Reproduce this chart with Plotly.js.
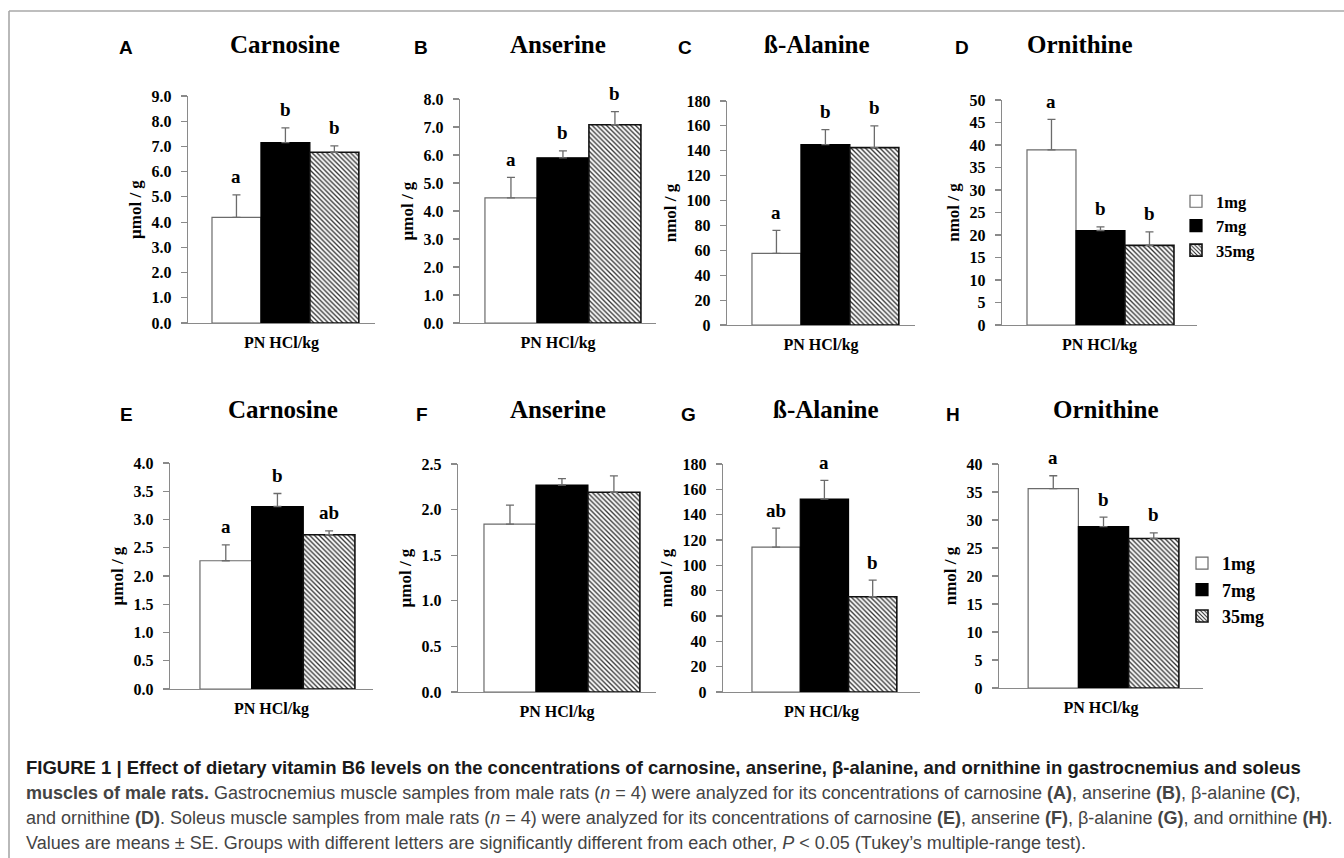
<!DOCTYPE html>
<html>
<head>
<meta charset="utf-8">
<script src="https://cdn.plot.ly/plotly-3.0.1.min.js"></script>
<style>
html,body{margin:0;padding:0;background:#fff;}
#chart{width:1344px;height:858px;}
</style>
</head>
<body>
<div id="chart"></div>
<script>
// ---------- DATA ----------
const doses = ['1mg', '7mg', '35mg'];
const panelLetters = ['A', 'B', 'C', 'D', 'E', 'F', 'G', 'H'];
const analytes = ['Carnosine', 'Anserine', 'ß-Alanine', 'Ornithine', 'Carnosine', 'Anserine', 'ß-Alanine', 'Ornithine'];
const units = ['μmol / g', 'μmol / g', 'nmol / g', 'nmol / g', 'μmol / g', 'μmol / g', 'nmol / g', 'nmol / g'];
const xAxisLabel = 'PN HCl/kg';

const mean1mg  = [4.19, 4.47, 57.5, 38.9, 2.27, 1.84, 114.3, 35.6];
const se1mg    = [0.89, 0.73, 18.5, 6.8, 0.28, 0.21, 15.0, 2.3];
const mean7mg  = [7.15, 5.90, 145, 21.0, 3.23, 2.27, 152.3, 28.8];
const se7mg    = [0.59, 0.25, 12, 0.8, 0.23, 0.07, 14.7, 1.7];
const mean35mg = [6.77, 7.08, 142.5, 17.7, 2.73, 2.19, 75.2, 26.7];
const se35mg   = [0.25, 0.47, 17.5, 3.0, 0.07, 0.18, 13.2, 1.0];

const letters1mg  = ['a', 'a', 'a', 'a', 'a', '', 'ab', 'a'];
const letters7mg  = ['b', 'b', 'b', 'b', 'b', '', 'a', 'b'];
const letters35mg = ['b', 'b', 'b', 'b', 'ab', '', 'b', 'b'];

const yMax  = [9, 8, 180, 50, 4, 2.5, 180, 40];
const yStep = [1, 1, 20, 5, 0.5, 0.5, 20, 5];
const yFormat = ['.1f', '.1f', 'd', 'd', '.1f', '.1f', 'd', 'd'];

const captionLines = [
  '<b>FIGURE 1 | Effect of dietary vitamin B6 levels on the concentrations of carnosine, anserine, β-alanine, and ornithine in gastrocnemius and soleus</b>',
  '<b>muscles of male rats.</b> Gastrocnemius muscle samples from male rats (<i>n</i> = 4) were analyzed for its concentrations of carnosine <b>(A)</b>, anserine <b>(B)</b>, β-alanine <b>(C)</b>,',
  'and ornithine <b>(D)</b>. Soleus muscle samples from male rats (<i>n</i> = 4) were analyzed for its concentrations of carnosine <b>(E)</b>, anserine <b>(F)</b>, β-alanine <b>(G)</b>, and ornithine <b>(H)</b>.',
  'Values are means ± SE. Groups with different letters are significantly different from each other, <i>P</i> &lt; 0.05 (Tukey’s multiple-range test).'
];

// ---------- LAYOUT GEOMETRY (pixels) ----------
const W = 1344, H = 858;
const boxes = [
  {x0: 188, x1: 375, y0: 96,  y1: 323, xr: [-0.99, 2.83], title: 285,  letter: 125.5},
  {x0: 460, x1: 656, y0: 99,  y1: 323, xr: [-0.98, 2.79], title: 558,  letter: 421},
  {x0: 727, x1: 915, y0: 101, y1: 325, xr: [-1.01, 2.83], title: 817,  letter: 685},
  {x0: 1002, x1: 1197, y0: 100, y1: 325, xr: [-1.01, 2.97], title: 1080, letter: 962},
  {x0: 170, x1: 373, y0: 463, y1: 689, xr: [-1.08, 2.85], title: 283,  letter: 126},
  {x0: 458, x1: 656, y0: 464, y1: 692, xr: [-1.0, 2.81],  title: 558,  letter: 422},
  {x0: 723, x1: 920, y0: 464, y1: 692, xr: [-1.1, 2.98],  title: 826,  letter: 688},
  {x0: 999, x1: 1203, y0: 464, y1: 688, xr: [-1.08, 2.98], title: 1106, letter: 953}
];
const px = v => v / W;
const py = v => 1 - v / H;

const serif = 'Liberation Serif, Times New Roman, serif';
const sans = 'Liberation Sans, Arial, sans-serif';
const axisGray = '#8a8a8a';

const seriesStyle = [
  {name: doses[0], mean: mean1mg, se: se1mg, letters: letters1mg, color: '#ffffff', line: '#6b6b6b', lw: 1.2, pattern: {shape: ''}},
  {name: doses[1], mean: mean7mg, se: se7mg, letters: letters7mg, color: '#000000', line: '#000000', lw: 1.2, pattern: {shape: ''}},
  {name: doses[2], mean: mean35mg, se: se35mg, letters: letters35mg, color: '#ffffff', line: '#111111', lw: 1.6,
   pattern: {shape: '\\', size: 3.4, solidity: 0.4, fgcolor: '#333333', bgcolor: '#ffffff'}}
];

const traces = [];
const annotations = [];
const layout = {
  width: W, height: H,
  margin: {l: 0, r: 0, t: 0, b: 0},
  paper_bgcolor: '#ffffff', plot_bgcolor: 'rgba(0,0,0,0)',
  barmode: 'overlay',
  showlegend: true,
  font: {family: serif, color: '#000'},
  legend: {x: px(1176), xanchor: 'left', y: py(184), yanchor: 'top', bgcolor: 'rgba(0,0,0,0)',
           font: {family: serif, size: 16.5, color: '#000', weight: 'bold'}, itemwidth: 30, tracegroupgap: 0},
  legend2: {x: px(1182), xanchor: 'left', y: py(545), yanchor: 'top', bgcolor: 'rgba(0,0,0,0)',
           font: {family: serif, size: 18, color: '#000', weight: 'bold'}, itemwidth: 30, tracegroupgap: 0},
  shapes: [
    {type: 'line', xref: 'paper', yref: 'paper', x0: px(9), x1: px(1344), y0: py(11), y1: py(11), line: {color: '#a8a8a8', width: 1.6}},
    {type: 'line', xref: 'paper', yref: 'paper', x0: px(9), x1: px(9), y0: py(11), y1: py(858), line: {color: '#a8a8a8', width: 1.6}}
  ],
  annotations: annotations
};

for (let p = 0; p < 8; p++) {
  const b = boxes[p];
  const sfx = p === 0 ? '' : String(p + 1);
  const xa = 'x' + sfx, ya = 'y' + sfx;
  layout['xaxis' + sfx] = {
    domain: [px(b.x0), px(b.x1)], anchor: ya, type: 'category',
    categoryorder: 'array', categoryarray: doses, range: b.xr,
    showgrid: false, zeroline: false, showline: true, linecolor: axisGray, linewidth: 1.4,
    ticks: '', showticklabels: false, fixedrange: true,
    title: {text: xAxisLabel, standoff: 13, font: {family: serif, size: 16, color: '#000', weight: 'bold'}}
  };
  layout['yaxis' + sfx] = {
    domain: [py(b.y1), py(b.y0)], anchor: xa, range: [0, yMax[p]],
    tick0: 0, dtick: yStep[p], tickformat: yFormat[p],
    showgrid: false, zeroline: false, showline: true, linecolor: axisGray, linewidth: 1.4,
    ticks: 'outside', ticklen: 6, tickcolor: axisGray, tickwidth: 1.2, ticklabelstandoff: 6,
    tickfont: {family: serif, size: 16, color: '#000', weight: 'bold'}, fixedrange: true,
    title: {text: units[p], standoff: 5, font: {family: serif, size: 17, color: '#000', weight: 'bold'}}
  };

  seriesStyle.forEach((s, k) => {
    traces.push({
      type: 'bar', name: s.name, x: [doses[k]], y: [s.mean[p]], width: 1,
      xaxis: xa, yaxis: ya,
      marker: {color: s.color, line: {color: s.line, width: s.lw}, pattern: s.pattern},
      error_y: {type: 'data', symmetric: false, array: [s.se[p]], arrayminus: [0], color: '#6b6b6b', thickness: 1.3, width: 4},
      showlegend: p === 3 || p === 7,
      legend: p === 7 ? 'legend2' : 'legend',
      hoverinfo: 'skip'
    });
    if (s.letters[p]) {
      annotations.push({
        xref: xa, yref: ya, x: doses[k], y: s.mean[p] + s.se[p],
        text: s.letters[p], showarrow: false, yanchor: 'middle', yshift: 18,
        font: {family: serif, size: 19, color: '#000', weight: 'bold'}
      });
    }
  });

  const rowTitleY = p < 4 ? 44 : 410;
  const rowLetterY = p < 4 ? 48 : 414;
  annotations.push({
    xref: 'paper', yref: 'paper', x: px(b.title), y: py(rowTitleY), xanchor: 'center', yanchor: 'middle',
    text: analytes[p], showarrow: false, font: {family: serif, size: 25, color: '#000', weight: 'bold'}
  });
  annotations.push({
    xref: 'paper', yref: 'paper', x: px(b.letter), y: py(rowLetterY), xanchor: 'center', yanchor: 'middle',
    text: panelLetters[p], showarrow: false, font: {family: sans, size: 19, color: '#000', weight: 'bold'}
  });
}

const captionY = [767, 793, 818, 843];
const captionSize = [18.5, 18, 18, 18];
captionLines.forEach((t, i) => {
  annotations.push({
    xref: 'paper', yref: 'paper', x: px(24), y: py(captionY[i]), xanchor: 'left', yanchor: 'middle',
    text: t, showarrow: false, align: 'left',
    font: {family: sans, size: captionSize[i], color: i === 0 ? '#1a1a1a' : '#444444'}
  });
});

Plotly.newPlot('chart', traces, layout, {staticPlot: true, displayModeBar: false});
</script>
</body>
</html>
